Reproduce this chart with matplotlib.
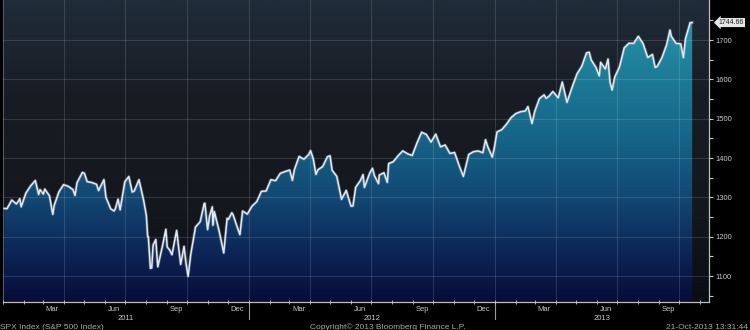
import datetime as dt

import numpy as np
import matplotlib
matplotlib.use('Agg')
import matplotlib.pyplot as plt
import matplotlib.dates as mdates
from matplotlib.colors import LinearSegmentedColormap
from matplotlib.patches import Polygon
from matplotlib.transforms import blended_transform_factory

# SPX closes (weekly plus the visible daily swings)
dates = [
    '2011-01-03', '2011-01-07', '2011-01-14', '2011-01-21', '2011-01-26', '2011-01-28',
    '2011-02-04', '2011-02-11', '2011-02-18', '2011-02-23', '2011-02-25', '2011-03-02',
    '2011-03-04', '2011-03-11', '2011-03-16', '2011-03-18', '2011-03-25', '2011-04-01',
    '2011-04-08', '2011-04-15', '2011-04-18', '2011-04-21', '2011-04-29', '2011-05-02',
    '2011-05-06', '2011-05-13', '2011-05-20', '2011-05-23', '2011-05-27', '2011-05-31',
    '2011-06-03', '2011-06-10', '2011-06-15', '2011-06-17', '2011-06-21', '2011-06-24',
    '2011-07-01', '2011-07-07', '2011-07-12', '2011-07-15', '2011-07-22', '2011-07-29',
    '2011-08-02', '2011-08-04', '2011-08-05', '2011-08-08', '2011-08-10', '2011-08-12',
    '2011-08-16', '2011-08-19', '2011-08-26', '2011-08-31', '2011-09-02', '2011-09-06',
    '2011-09-09', '2011-09-16', '2011-09-22', '2011-09-27', '2011-09-30', '2011-10-03',
    '2011-10-07', '2011-10-14', '2011-10-21', '2011-10-27', '2011-10-28', '2011-11-01',
    '2011-11-04', '2011-11-08', '2011-11-09', '2011-11-11', '2011-11-18', '2011-11-25',
    '2011-11-30', '2011-12-02', '2011-12-07', '2011-12-09', '2011-12-16', '2011-12-19',
    '2011-12-23', '2011-12-30',
    '2012-01-06', '2012-01-13', '2012-01-20', '2012-01-27', '2012-02-03', '2012-02-10',
    '2012-02-17', '2012-02-24', '2012-03-02', '2012-03-06', '2012-03-09', '2012-03-16',
    '2012-03-23', '2012-03-30', '2012-04-02', '2012-04-06', '2012-04-10', '2012-04-13',
    '2012-04-20', '2012-04-27', '2012-05-01', '2012-05-04', '2012-05-11', '2012-05-18',
    '2012-05-25', '2012-06-01', '2012-06-04', '2012-06-08', '2012-06-15', '2012-06-19',
    '2012-06-21', '2012-06-29', '2012-07-03', '2012-07-06', '2012-07-12', '2012-07-13',
    '2012-07-20', '2012-07-25', '2012-07-27', '2012-08-03', '2012-08-10', '2012-08-17',
    '2012-08-24', '2012-08-31', '2012-09-07', '2012-09-14', '2012-09-21', '2012-09-28',
    '2012-10-05', '2012-10-12', '2012-10-19', '2012-10-26', '2012-11-02', '2012-11-09',
    '2012-11-15', '2012-11-16', '2012-11-23', '2012-11-30', '2012-12-07', '2012-12-14',
    '2012-12-18', '2012-12-21', '2012-12-28', '2012-12-31',
    '2013-01-04', '2013-01-11', '2013-01-18', '2013-01-25', '2013-02-01', '2013-02-08',
    '2013-02-15', '2013-02-19', '2013-02-25', '2013-03-01', '2013-03-08', '2013-03-15',
    '2013-03-18', '2013-03-22', '2013-03-28', '2013-04-05', '2013-04-11', '2013-04-18',
    '2013-04-26', '2013-05-03', '2013-05-10', '2013-05-17', '2013-05-21', '2013-05-24',
    '2013-05-31', '2013-06-05', '2013-06-07', '2013-06-14', '2013-06-18', '2013-06-21',
    '2013-06-24', '2013-06-28', '2013-07-05', '2013-07-12', '2013-07-19', '2013-07-26',
    '2013-08-02', '2013-08-09', '2013-08-16', '2013-08-23', '2013-08-27', '2013-08-30',
    '2013-09-06', '2013-09-13', '2013-09-18', '2013-09-20', '2013-09-27', '2013-10-04',
    '2013-10-08', '2013-10-11', '2013-10-18', '2013-10-21',
]
closes = [
    1271.9, 1271.5, 1293.2, 1283.4, 1296.6, 1276.3,
    1310.9, 1329.2, 1343.0, 1307.4, 1319.9, 1308.4,
    1321.2, 1304.3, 1256.9, 1279.2, 1313.8, 1332.4,
    1328.2, 1319.7, 1305.1, 1337.4, 1363.6, 1361.2,
    1340.2, 1337.8, 1333.3, 1317.4, 1331.1, 1345.2,
    1300.2, 1271.0, 1265.4, 1271.5, 1295.5, 1268.5,
    1339.7, 1353.2, 1313.6, 1316.1, 1345.0, 1292.3,
    1254.0, 1200.1, 1199.4, 1119.5, 1120.8, 1178.8,
    1192.8, 1123.5, 1176.8, 1218.9, 1174.0, 1165.2,
    1154.2, 1216.0, 1129.6, 1175.4, 1131.4, 1099.2,
    1155.5, 1224.6, 1238.3, 1284.6, 1285.1, 1218.3,
    1253.2, 1275.9, 1229.1, 1263.9, 1215.7, 1158.7,
    1247.0, 1244.3, 1261.0, 1255.2, 1219.7, 1205.4,
    1265.3, 1257.6,
    1277.8, 1289.1, 1315.4, 1316.3, 1344.9, 1342.6,
    1361.2, 1365.7, 1369.6, 1343.4, 1370.9, 1404.2,
    1397.1, 1408.5, 1419.0, 1398.1, 1358.6, 1370.3,
    1378.5, 1403.4, 1405.8, 1369.1, 1353.4, 1295.2,
    1317.8, 1278.0, 1278.2, 1325.7, 1342.8, 1358.0,
    1325.5, 1362.2, 1374.0, 1354.7, 1334.8, 1356.8,
    1362.7, 1338.3, 1386.0, 1391.0, 1405.9, 1418.2,
    1411.1, 1406.6, 1437.9, 1465.8, 1460.2, 1440.7,
    1460.9, 1428.6, 1433.2, 1411.9, 1414.2, 1379.9,
    1353.3, 1359.9, 1409.2, 1416.2, 1418.1, 1413.6,
    1446.8, 1430.2, 1402.4, 1426.2,
    1466.5, 1472.1, 1486.0, 1503.0, 1513.2, 1517.9,
    1519.8, 1530.9, 1487.9, 1518.2, 1551.2, 1560.7,
    1552.1, 1556.9, 1569.2, 1553.3, 1593.4, 1541.6,
    1582.2, 1614.4, 1633.7, 1667.5, 1669.2, 1649.6,
    1630.7, 1608.9, 1643.4, 1626.7, 1651.8, 1592.4,
    1573.1, 1606.3, 1631.9, 1680.2, 1692.1, 1691.7,
    1709.7, 1691.4, 1655.8, 1663.5, 1630.5, 1633.0,
    1655.2, 1688.0, 1725.5, 1709.9, 1691.8, 1690.5,
    1655.5, 1703.2, 1744.5, 1744.66,
]
y_ticks = [1100, 1200, 1300, 1400, 1500, 1600, 1700]
month_labels = ['Mar', 'Jun', 'Sep', 'Dec']
years = [2011, 2012, 2013]
last_value = 1744.66
footer = ['SPX Index (S&P 500 Index)', 'Copyright\u00a9 2013 Bloomberg Finance L.P.',
          '21-Oct-2013 13:31:44']

plt.rcParams['font.family'] = ['Liberation Sans', 'DejaVu Sans']
txt_color = '#c8c8c8'

fig = plt.figure(figsize=(7.5, 3.3), dpi=100, facecolor='black')
ax = fig.add_axes([3 / 750, 28 / 330, 706 / 750, 302 / 330])
ax.set_facecolor('black')

x = mdates.datestr2num(dates)
xmin = mdates.date2num(dt.date(2011, 1, 1))
xmax = mdates.date2num(dt.date(2013, 11, 15))
ymin, ymax = 1034, 1802

def span(v):
    return (v - ymin) / (ymax - ymin)

bg_cmap = LinearSegmentedColormap.from_list('bg', [
    (0.0, '#0b0d16'), (0.3, '#14171c'), (0.7, '#181d25'), (1.0, '#202c39')])
fill_cmap = LinearSegmentedColormap.from_list('fill', [
    (0.0, '#080c37'), (span(1150), '#0c2355'), (span(1300), '#124873'),
    (span(1450), '#166487'), (span(1600), '#1c7a96'), (1.0, '#2d9baf')])

grad = np.linspace(0, 1, 256).reshape(-1, 1)
ax.imshow(grad, extent=[xmin, xmax, ymin, ymax], origin='lower', cmap=bg_cmap,
          aspect='auto', zorder=0)
im = ax.imshow(grad, extent=[xmin, x[-1], ymin, ymax], origin='lower',
               cmap=fill_cmap, aspect='auto', zorder=1)
verts = np.column_stack([np.r_[x[0], x, x[-1]], np.r_[ymin, closes, ymin]])
poly = Polygon(verts, closed=True, facecolor='none', edgecolor='none',
               transform=ax.transData)
ax.add_patch(poly)
im.set_clip_path(poly)

# soft glow under the white price line
ax.plot(x, closes, color='#9fb4c8', lw=2.2, alpha=0.35, zorder=4)
ax.plot(x, closes, color='#e4e9f0', lw=1.1, zorder=5)

ax.set_xlim(xmin, xmax)
ax.set_ylim(ymin, ymax)

# grid: quarters and every 100 points
ax.xaxis.set_major_locator(mdates.MonthLocator(bymonth=[1, 4, 7, 10]))
ax.xaxis.set_minor_locator(mdates.MonthLocator())
ax.xaxis.set_major_formatter(plt.NullFormatter())
ax.grid(True, which='major', color='white', alpha=0.13, lw=0.8, zorder=3)
ax.set_axisbelow(False)

ax.yaxis.tick_right()
ax.set_yticks(y_ticks)
ax.set_yticks(np.arange(1050, 1800, 100), minor=True)
ax.tick_params(axis='y', which='both', colors=txt_color, labelsize=5.5,
               length=3, width=0.8, direction='out', pad=2)
ax.tick_params(axis='x', which='both', colors=txt_color, length=2.5,
               width=0.6, direction='inout')

ax.spines['top'].set_visible(False)
ax.spines['left'].set_color('#3a4450')
ax.spines['left'].set_linewidth(0.8)
for side in ['right', 'bottom']:
    ax.spines[side].set_color('#bdbdbd')
    ax.spines[side].set_linewidth(0.9)

trans = blended_transform_factory(ax.transData, ax.transAxes)
for yr in years:
    for mon, lab in zip([3, 6, 9, 12], month_labels):
        xm = mdates.date2num(dt.date(yr, mon, 15))
        if xm < xmax:
            ax.text(xm, -0.024, lab, transform=trans, ha='center', va='center',
                    fontsize=5.5, color=txt_color)
    lo = max(mdates.date2num(dt.date(yr, 1, 1)), xmin)
    hi = min(mdates.date2num(dt.date(yr + 1, 1, 1)), xmax)
    ax.text((lo + hi) / 2, -0.054, str(yr), transform=trans, ha='center',
            va='center', fontsize=5.5, color=txt_color)
    if yr > years[0]:
        ax.plot([lo, lo], [0, -0.055], transform=trans, color='#9a9a9a',
                lw=0.8, clip_on=False)

ax.annotate(f'{last_value:.2f}', xy=(1.0, last_value),
            xycoords=blended_transform_factory(ax.transAxes, ax.transData),
            xytext=(7, 0), textcoords='offset points', ha='left', va='center',
            fontsize=5, color='#202020',
            bbox=dict(boxstyle='larrow,pad=0.15', fc='#e6e6e6', ec='none'))

fig.text(0.0, 0.008, footer[0], fontsize=6, color='#a8a8a8', ha='left', va='center')
fig.text(0.413, 0.008, footer[1], fontsize=6, color='#a8a8a8', ha='left', va='center')
fig.text(0.888, 0.008, footer[2], fontsize=6, color='#a8a8a8', ha='left', va='center')

fig.savefig('out.png', dpi=100, facecolor='black')
